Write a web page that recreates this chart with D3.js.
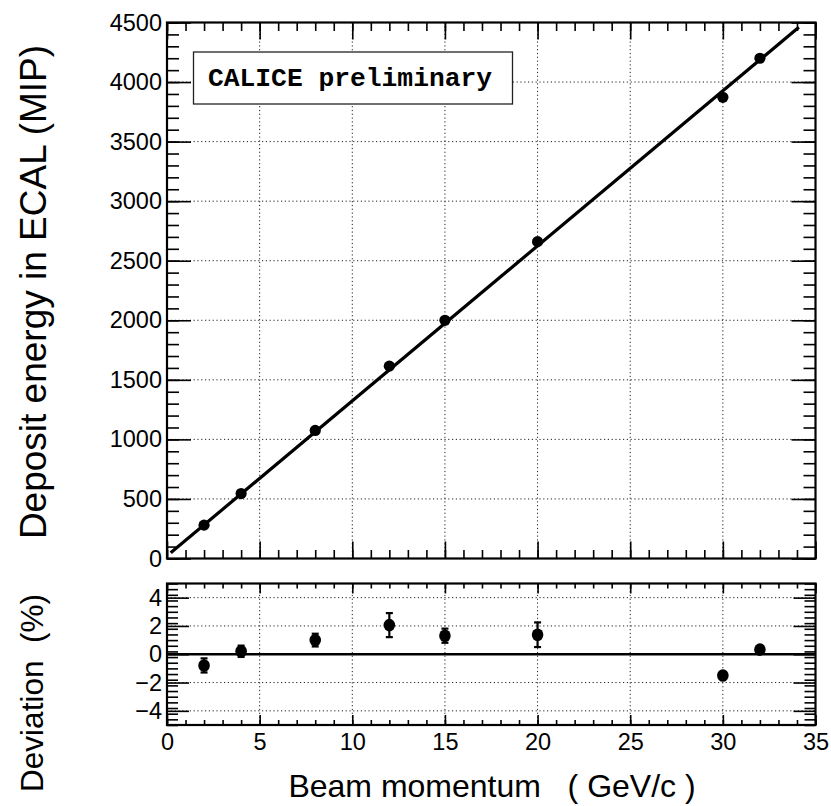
<!DOCTYPE html>
<html>
<head>
<meta charset="utf-8">
<script src="https://cdn.jsdelivr.net/npm/d3@7"></script>
<style>
  body { margin: 0; background: #fff; }
  svg { display: block; }
</style>
</head>
<body>
<div id="chart"></div>
<script>
'use strict';

// beam momentum (GeV/c)
var momenta = [2, 4, 8, 12, 15, 20, 30, 32];
// deposit energy in ECAL (MIP)
var energies = [280, 545, 1075, 1615, 2000, 2660, 3872, 4200];
// deviation from the linear fit (%) and its error
var deviations = [-0.79, 0.21, 1.0, 2.06, 1.31, 1.38, -1.5, 0.33];
var devErrors = [0.5, 0.4, 0.45, 0.85, 0.5, 0.87, 0.15, 0.15];
// end points of the linear fit
var fitX = [0.2, 34.1];
var fitY = [48, 4460];

var xTicks = [0, 5, 10, 15, 20, 25, 30, 35];
var energyTicks = [0, 500, 1000, 1500, 2000, 2500, 3000, 3500, 4000, 4500];
var devTicks = [-4, -2, 0, 2, 4];

var xTitle = 'Beam momentum \u00a0 ( GeV/c )';
var energyTitle = 'Deposit energy in ECAL (MIP)';
var devTitle = 'Deviation \u00a0(%)';
var paveText = 'CALICE preliminary';

(function () {
  var width = 831, height = 806;
  var left = 167, right = 815.5;
  var topY0 = 22.5, topY1 = 558.5;
  var botY0 = 583.5, botY1 = 725;
  var labelFont = '"Liberation Sans", Arial, Helvetica, sans-serif';

  var svg = d3.select('#chart').append('svg')
    .attr('width', width)
    .attr('height', height);

  var x = d3.scaleLinear().domain([0, 35]).range([left, right]);
  var yTop = d3.scaleLinear().domain([0, 4500]).range([topY1, topY0]);
  var yBot = d3.scaleLinear().domain([-5, 5]).range([botY1, botY0]);

  var xMinor = d3.range(0, 35.5, 1);
  var energyMinor = d3.range(0, 4550, 100);
  var devMinor = d3.range(0, 26).map(function (i) { return -5 + i * 0.4; });

  function grid(g, xs, ys, y, y0, y1) {
    g.selectAll('line.gx')
      .data(xs)
      .enter().append('line')
      .attr('x1', function (d) { return x(d); })
      .attr('x2', function (d) { return x(d); })
      .attr('y1', y0)
      .attr('y2', y1);
    g.selectAll('line.gy')
      .data(ys)
      .enter().append('line')
      .attr('x1', left)
      .attr('x2', right)
      .attr('y1', function (d) { return y(d); })
      .attr('y2', function (d) { return y(d); });
    g.selectAll('line')
      .style('stroke', '#222')
      .style('stroke-width', 1)
      .style('stroke-dasharray', '1.2,2.6');
  }

  function ticks(g, y, y0, y1, yMajor, yMinor, xLen, yLen, withLabels) {
    var axes = [
      [d3.axisBottom(x).tickValues(xMinor).tickSize(-xLen / 2), 'translate(0,' + y1 + ')'],
      [d3.axisBottom(x).tickValues(xTicks).tickSize(-xLen), 'translate(0,' + y1 + ')'],
      [d3.axisTop(x).tickValues(xMinor).tickSize(-xLen / 2), 'translate(0,' + y0 + ')'],
      [d3.axisTop(x).tickValues(xTicks).tickSize(-xLen), 'translate(0,' + y0 + ')'],
      [d3.axisLeft(y).tickValues(yMinor).tickSize(-yLen / 2), 'translate(' + left + ',0)'],
      [d3.axisLeft(y).tickValues(yMajor).tickSize(-yLen), 'translate(' + left + ',0)'],
      [d3.axisRight(y).tickValues(yMinor).tickSize(-yLen / 2), 'translate(' + right + ',0)'],
      [d3.axisRight(y).tickValues(yMajor).tickSize(-yLen), 'translate(' + right + ',0)']
    ];
    axes.forEach(function (a, i) {
      var showLabels = (i === 5) || (i === 1 && withLabels);
      a[0].tickFormat(showLabels ? d3.format('d') : '');
      a[0].tickPadding(i === 1 ? 8 : 5);
      var ag = g.append('g').attr('transform', a[1]).call(a[0]);
      ag.select('.domain').remove();
      ag.selectAll('line').style('stroke', '#000').style('stroke-width', 1.6);
      ag.selectAll('text')
        .style('font-family', labelFont)
        .style('font-size', '23.5px')
        .style('fill', '#000');
    });
    g.append('rect')
      .attr('x', left)
      .attr('y', y0)
      .attr('width', right - left)
      .attr('height', y1 - y0)
      .style('fill', 'none')
      .style('stroke', '#000')
      .style('stroke-width', 2.2);
  }

  // upper pad
  var upper = svg.append('g');
  grid(upper.append('g'), xTicks.slice(1, -1), energyTicks.slice(1, -1),
       yTop, topY0, topY1);
  ticks(upper, yTop, topY0, topY1, energyTicks, energyMinor, 17, 24, false);

  var pave = upper.append('g');
  pave.append('rect')
    .attr('x', 193.5)
    .attr('y', 52)
    .attr('width', 319)
    .attr('height', 52)
    .style('fill', '#fff')
    .style('stroke', '#222')
    .style('stroke-width', 1.3);
  pave.append('text')
    .attr('x', 208)
    .attr('y', 86)
    .style('font-family', '"Liberation Mono", "Courier New", monospace')
    .style('font-weight', 'bold')
    .style('font-size', '26.3px')
    .text(paveText);

  var fitLine = d3.line()
    .x(function (d) { return x(d[0]); })
    .y(function (d) { return yTop(d[1]); });
  upper.append('path')
    .datum(d3.zip(fitX, fitY))
    .attr('d', fitLine)
    .style('fill', 'none')
    .style('stroke', '#000')
    .style('stroke-width', 3.2);

  upper.selectAll('circle')
    .data(d3.zip(momenta, energies))
    .enter().append('circle')
    .attr('cx', function (d) { return x(d[0]); })
    .attr('cy', function (d) { return yTop(d[1]); })
    .attr('r', 5.6)
    .style('fill', '#000');

  // lower pad
  var lower = svg.append('g');
  grid(lower.append('g'), xTicks.slice(1, -1), [-4, -2, 2, 4],
       yBot, botY0, botY1);
  ticks(lower, yBot, botY0, botY1, devTicks, devMinor, 10, 22, true);

  lower.append('line')
    .attr('x1', left)
    .attr('x2', right)
    .attr('y1', yBot(0))
    .attr('y2', yBot(0))
    .style('stroke', '#000')
    .style('stroke-width', 2.6);

  var devData = momenta.map(function (m, i) {
    return { x: m, y: deviations[i], e: devErrors[i] };
  });
  var pts = lower.selectAll('g.pt')
    .data(devData)
    .enter().append('g')
    .attr('class', 'pt');
  pts.append('line')
    .attr('x1', function (d) { return x(d.x); })
    .attr('x2', function (d) { return x(d.x); })
    .attr('y1', function (d) { return yBot(d.y - d.e); })
    .attr('y2', function (d) { return yBot(d.y + d.e); });
  [-1, 1].forEach(function (s) {
    pts.append('line')
      .attr('x1', function (d) { return x(d.x) - 3.5; })
      .attr('x2', function (d) { return x(d.x) + 3.5; })
      .attr('y1', function (d) { return yBot(d.y + s * d.e); })
      .attr('y2', function (d) { return yBot(d.y + s * d.e); });
  });
  pts.selectAll('line')
    .style('stroke', '#000')
    .style('stroke-width', 2.2);
  pts.append('ellipse')
    .attr('cx', function (d) { return x(d.x); })
    .attr('cy', function (d) { return yBot(d.y); })
    .attr('rx', 5.8)
    .attr('ry', 6.3)
    .style('fill', '#000');

  // titles
  svg.append('text')
    .attr('transform', 'translate(46,292) rotate(-90)')
    .attr('text-anchor', 'middle')
    .style('font-family', labelFont)
    .style('font-size', '37px')
    .text(energyTitle);
  svg.append('text')
    .attr('transform', 'translate(43,693) rotate(-90)')
    .attr('text-anchor', 'middle')
    .style('font-family', labelFont)
    .style('font-size', '31.5px')
    .text(devTitle);
  svg.append('text')
    .attr('x', 492)
    .attr('y', 797)
    .attr('text-anchor', 'middle')
    .style('font-family', labelFont)
    .style('font-size', '32px')
    .text(xTitle);
})();
</script>
</body>
</html>
